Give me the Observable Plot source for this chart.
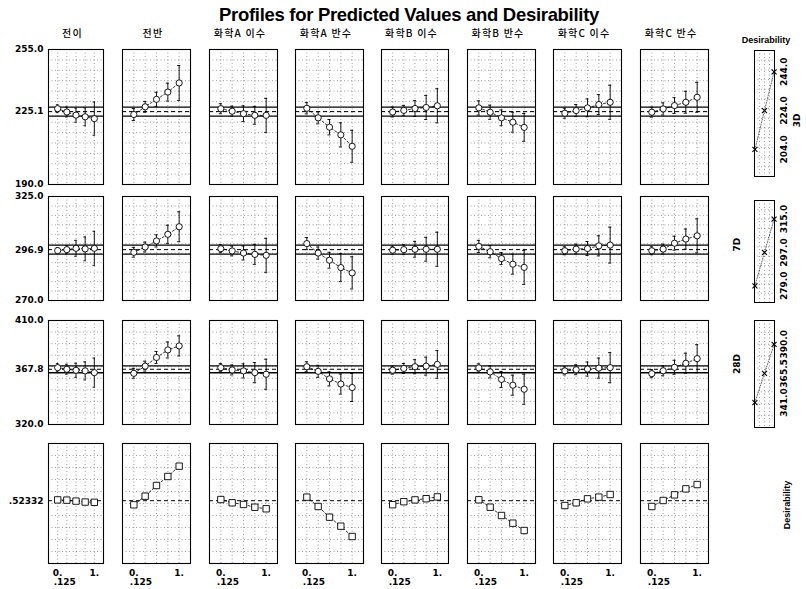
<!DOCTYPE html>
<html>
<head>
<meta charset="utf-8">
<script src="https://cdn.jsdelivr.net/npm/d3@7"></script>
<script src="https://cdn.jsdelivr.net/npm/@observablehq/plot@0.6"></script>
<style>
  html, body { margin: 0; padding: 0; background: #fff; }
  #chart { position: relative; width: 806px; height: 589px; background: #fff; overflow: hidden; }
  #chart svg { position: absolute; }
  .lbl { position: absolute; white-space: nowrap; color: #000; }
</style>
</head>
<body>
<div id="chart"></div>
<script>
// ---------------- data ----------------
const title = "Profiles for Predicted Values and Desirability";
const factors = ["전이", "전반", "화학A 이수", "화학A 반수", "화학B 이수", "화학B 반수", "화학C 이수", "화학C 반수"];
const responses = ["3D", "7D", "28D", "Desirability"];
const levels = [0, 0.25, 0.5, 0.75, 1];
const xTickLabels = [0, 1];
const currentX = ".125";

const yDomains = [[190, 255], [270, 325], [320, 410], [0, 1]];
const yTickLabels = [[190, 225.1, 255], [270, 296.9, 325], [320, 367.8, 410], [0.52332]];
const current = [225.1, 296.9, 367.8, 0.52332];
const bandLo = [222.9, 294.5, 364.8, null];
const bandHi = [227.3, 299.3, 370.8, null];

const mean3D = [
  [226.5, 224.9, 223.4, 222.6, 221.7],
  [223.7, 227.4, 231.0, 234.5, 238.9],
  [226.5, 225.3, 224.1, 223.3, 223.3],
  [226.7, 222.1, 217.6, 213.9, 208.4],
  [224.9, 225.7, 226.6, 227.1, 227.9],
  [226.9, 224.8, 222.1, 220.0, 217.5],
  [224.3, 225.6, 226.9, 228.5, 229.6],
  [224.8, 226.4, 228.0, 229.6, 232.0]
];
const err3D = [
  [1.9, 2.4, 3.4, 4.3, 8.0],
  [2.9, 2.6, 3.4, 4.3, 8.4],
  [2.4, 2.4, 3.8, 4.3, 8.2],
  [2.7, 2.9, 3.7, 5.8, 7.7],
  [2.4, 2.4, 3.8, 5.8, 8.2],
  [3.4, 3.4, 3.8, 4.8, 6.7],
  [2.4, 2.9, 4.3, 4.8, 8.2],
  [2.4, 2.9, 3.8, 5.3, 7.2]
];
const mean7D = [
  [296.4, 296.9, 297.6, 297.3, 297.6],
  [295.5, 298.3, 301.5, 305.0, 309.0],
  [297.4, 296.2, 295.1, 294.4, 293.9],
  [300.1, 295.1, 291.3, 287.4, 284.6],
  [296.6, 296.9, 297.1, 297.1, 297.1],
  [298.6, 295.8, 292.2, 289.2, 287.5],
  [296.3, 297.2, 297.5, 298.9, 299.3],
  [296.3, 297.2, 300.3, 302.5, 304.2]
];
const err7D = [
  [1.6, 2.1, 4.2, 6.3, 9.0],
  [2.6, 2.6, 3.2, 4.8, 7.9],
  [2.1, 2.6, 3.7, 5.3, 9.0],
  [3.2, 3.2, 4.2, 7.4, 8.5],
  [2.1, 2.6, 4.2, 6.3, 9.0],
  [3.2, 3.2, 3.2, 5.3, 9.0],
  [2.1, 2.6, 3.7, 5.3, 9.5],
  [2.1, 2.6, 3.7, 5.3, 9.0]
];
const mean28D = [
  [369.2, 367.8, 366.9, 366.4, 364.9],
  [364.3, 370.5, 378.0, 384.5, 388.0],
  [369.2, 367.2, 366.4, 364.9, 363.5],
  [370.0, 366.0, 359.5, 355.0, 352.0],
  [367.0, 368.5, 370.0, 370.5, 372.0],
  [369.0, 365.5, 359.0, 354.0, 350.5],
  [366.4, 367.4, 368.0, 368.8, 369.2],
  [364.0, 366.5, 369.5, 373.0, 377.0]
];
const err28D = [
  [3.5, 4.3, 6.1, 7.8, 12.6],
  [4.3, 4.3, 5.2, 6.9, 8.7],
  [3.5, 4.3, 6.1, 8.7, 13.0],
  [4.3, 5.2, 6.1, 8.7, 12.1],
  [3.5, 4.3, 6.1, 7.8, 12.0],
  [3.5, 5.2, 6.9, 8.7, 13.0],
  [3.5, 4.3, 6.1, 8.7, 13.0],
  [3.5, 4.3, 6.1, 8.7, 12.1]
];
const meanDesir = [
  [0.530, 0.528, 0.520, 0.512, 0.510],
  [0.489, 0.561, 0.650, 0.725, 0.811],
  [0.533, 0.506, 0.492, 0.469, 0.456],
  [0.553, 0.475, 0.386, 0.311, 0.225],
  [0.490, 0.515, 0.530, 0.540, 0.555],
  [0.531, 0.469, 0.400, 0.336, 0.275],
  [0.483, 0.506, 0.539, 0.553, 0.575],
  [0.475, 0.525, 0.572, 0.622, 0.658]
];
const desirTicks = [[204.0, 224.0, 244.0], [279.0, 297.0, 315.0], [341.0, 365.5, 390.0]];
const desirHandleX = [0.02, 0.5, 0.98];

const means = [mean3D, mean7D, mean28D, meanDesir];
const errs = [err3D, err7D, err28D, null];

// ---------------- layout ----------------
const colLeft = [48, 122, 209, 295, 381, 467, 553, 640];
const colW = [55, 68, 68, 68, 67, 68, 68, 68];
const rowTop = [49, 196, 320, 443];
const rowH = [135, 104, 104, 120];
const boxLeft = 754, boxW = 20;
const boxTop = [50, 200, 320];
const boxH = [126, 102, 107];

const chart = document.getElementById("chart");
const baseStyle = {
  fontFamily: "'DejaVu Sans', sans-serif", fontSize: "9px", fontWeight: "bold",
  overflow: "visible", background: "none", color: "#000"
};
const gridStyle = {stroke: "#333", strokeOpacity: 0.6, strokeDasharray: "1,2.5", strokeWidth: 0.8};

function place(svg, left, top) {
  svg.style.left = left + "px";
  svg.style.top = top + "px";
  chart.appendChild(svg);
}

function panel(r, c) {
  const ml = c === 0 ? 48 : 1, mr = 1, mt = 1, mb = r === 3 ? 30 : 1;
  const pts = levels.map((x, i) => {
    const y = means[r][c][i];
    const e = errs[r] ? errs[r][c][i] : null;
    return {x, y, lo: e == null ? null : y - e, hi: e == null ? null : y + e};
  });
  const isD = r === 3;
  const marks = [
    Plot.gridY({ticks: 10, ...gridStyle}),
    Plot.gridX({ticks: levels, ...gridStyle}),
    Plot.frame({stroke: "#000", strokeWidth: 1.1})
  ];
  if (!isD) {
    marks.push(Plot.ruleY([bandLo[r], bandHi[r]], {stroke: "#000", strokeWidth: 1.3}));
  }
  marks.push(Plot.ruleY([current[r]], {stroke: "#000", strokeWidth: 1, strokeDasharray: "4,3"}));
  marks.push(Plot.line(pts, {x: "x", y: "y", stroke: "#000", strokeWidth: 0.8, strokeDasharray: "2,2"}));
  if (!isD) {
    marks.push(Plot.ruleX(pts, {x: "x", y1: "lo", y2: "hi", stroke: "#000", strokeWidth: 0.9}));
    marks.push(Plot.ruleY(pts, {y: "lo", x1: d => d.x - 0.035, x2: d => d.x + 0.035, stroke: "#000", strokeWidth: 0.9}));
    marks.push(Plot.ruleY(pts, {y: "hi", x1: d => d.x - 0.035, x2: d => d.x + 0.035, stroke: "#000", strokeWidth: 0.9}));
    marks.push(Plot.dot(pts, {x: "x", y: "y", r: 3.1, fill: "white", stroke: "#000", strokeWidth: 0.9}));
  } else {
    marks.push(Plot.dot(pts, {x: "x", y: "y", symbol: "square", r: 3.6, fill: "white", stroke: "#000", strokeWidth: 0.9}));
  }
  if (c === 0) {
    marks.push(Plot.axisY({
      ticks: yTickLabels[r],
      tickFormat: isD ? (d => String(d).replace(/^0/, "")) : (d => d.toFixed(1)),
      tickSize: 0, tickPadding: 5, fill: "#000", label: null
    }));
  }
  if (isD) {
    marks.push(Plot.axisX({ticks: xTickLabels, tickFormat: d => d + ".", tickSize: 0, tickPadding: 6, fill: "#000", label: null}));
    marks.push(Plot.text([currentX], {x: 0, frameAnchor: "bottom", text: d => d, dy: 21, dx: -4, textAnchor: "start", fill: "#000"}));
  }
  const svg = Plot.plot({
    width: colW[c] + ml + mr, height: rowH[r] + mt + mb,
    marginLeft: ml, marginRight: mr, marginTop: mt, marginBottom: mb,
    x: {domain: [-0.25, 1.25], axis: null, label: null},
    y: {domain: yDomains[r], axis: null, label: null},
    style: baseStyle,
    marks
  });
  place(svg, colLeft[c] - ml, rowTop[r] - mt);
}

function desirBox(r) {
  const ml = 24, mr = 34, mt = 1, mb = 1;
  const handles = desirHandleX.map((x, i) => ({x, y: desirTicks[r][i]}));
  const labelRight = r === 0;
  const marks = [
    Plot.gridY({ticks: 10, ...gridStyle}),
    Plot.gridX({ticks: [0.25, 0.5, 0.75], ...gridStyle}),
    Plot.frame({stroke: "#000", strokeWidth: 1}),
    Plot.line(handles, {x: "x", y: "y", stroke: "#000", strokeWidth: 0.6, strokeDasharray: "1,1.5"}),
    Plot.dot(handles, {x: "x", y: "y", symbol: "times", r: 2.4, stroke: "#000", strokeWidth: 1.1}),
    Plot.text(desirTicks[r], {x: 1, y: d => d, text: d => d.toFixed(1), rotate: -90, dx: 10, fill: "#000"}),
    Plot.text([responses[r]], {frameAnchor: labelRight ? "right" : "left", text: d => d, rotate: -90,
      dx: labelRight ? 23 : -17, fill: "#000"})
  ];
  const svg = Plot.plot({
    width: boxW + ml + mr, height: boxH[r] + mt + mb,
    marginLeft: ml, marginRight: mr, marginTop: mt, marginBottom: mb,
    x: {domain: [0, 1], axis: null, label: null},
    y: {domain: yDomains[r], axis: null, label: null},
    style: baseStyle,
    marks
  });
  place(svg, boxLeft - ml, boxTop[r] - mt);
}

for (let r = 0; r < 4; r++) for (let c = 0; c < 8; c++) panel(r, c);
for (let r = 0; r < 3; r++) desirBox(r);

// ---------------- texts ----------------
function label(text, css) {
  const d = document.createElement("div");
  d.className = "lbl";
  d.textContent = text;
  Object.assign(d.style, css);
  chart.appendChild(d);
  return d;
}
label(title, {left: "409px", top: "4px", transform: "translateX(-50%)",
  font: "bold 18.5px 'Liberation Sans', Arial, sans-serif", letterSpacing: "-0.3px", lineHeight: "22px"});
factors.forEach((f, c) => {
  label(f, {left: (colLeft[c] + colW[c] / 2 - 3) + "px", top: "26px", transform: "translateX(-50%)",
    font: "500 10px 'Noto Sans CJK KR', sans-serif", letterSpacing: "1.2px", lineHeight: "14px"});
});
label("Desirability", {left: "766px", top: "34px", transform: "translateX(-50%)",
  font: "bold 9px 'Liberation Sans', Arial, sans-serif", lineHeight: "12px"});
label("Desirability", {left: "787px", top: "505px", transform: "translate(-50%,-50%) rotate(-90deg)",
  font: "bold 9px 'Liberation Sans', Arial, sans-serif", lineHeight: "12px"});
</script>
</body>
</html>
